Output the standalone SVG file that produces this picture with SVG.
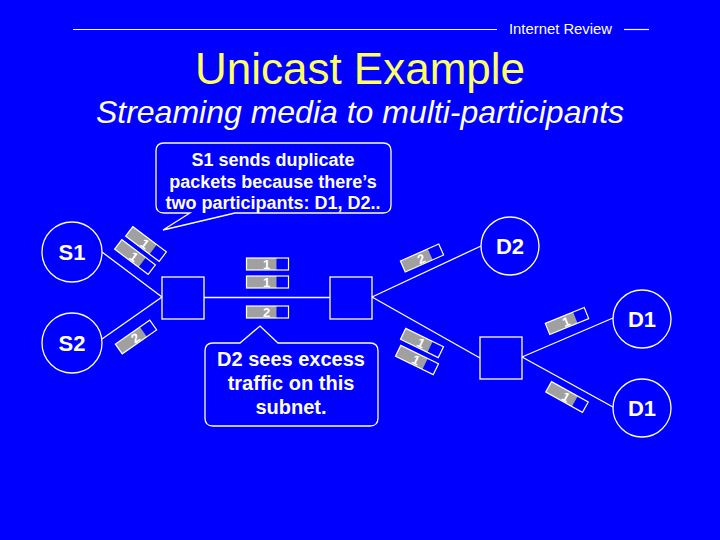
<svg xmlns="http://www.w3.org/2000/svg" width="720" height="540" viewBox="0 0 720 540">
<style>
.ln{stroke:#fff;stroke-width:1.3;fill:none}
.nd{fill:#0000ff;stroke:#fff;stroke-width:1.3}
.lbl{font-family:"Liberation Sans",Arial,sans-serif;font-weight:bold;font-size:22px;fill:#fff;text-anchor:middle}
.pt{font-family:"Liberation Sans",Arial,sans-serif;font-weight:bold;font-size:13px;fill:#fff;text-anchor:middle}
.co{font-family:"Liberation Sans",Arial,sans-serif;font-weight:bold;fill:#fff;text-anchor:middle}
</style>
<defs>
<g id="pkt">
<rect x="-21" y="-6" width="30" height="12" fill="#a0a0a0"/>
<rect x="-21" y="-6" width="42" height="12" fill="none" stroke="#fff" stroke-width="1.2"/>
</g>
</defs>
<rect width="720" height="540" fill="#0000ff"/>
<g id="header">
<line x1="73" y1="29.5" x2="497" y2="29.5" stroke="#fff" stroke-width="1.2"/>
<text x="509" y="34" font-family="'Liberation Sans',Arial,sans-serif" font-size="14" fill="#fff" textLength="103" lengthAdjust="spacingAndGlyphs">Internet Review</text>
<line x1="624" y1="29.5" x2="649" y2="29.5" stroke="#fff" stroke-width="1.2"/>
</g>
<text x="360" y="84" font-family="'Liberation Sans',Arial,sans-serif" font-size="44" fill="#ffff66" text-anchor="middle">Unicast Example</text>
<text x="360" y="123" font-family="'Liberation Sans',Arial,sans-serif" font-size="32" font-style="italic" fill="#fff" text-anchor="middle">Streaming media to multi-participants</text>
<g id="connectors">
<line class="ln" x1="102" y1="252" x2="162" y2="297"/>
<line class="ln" x1="102" y1="339" x2="162" y2="297"/>
<line class="ln" x1="204" y1="297.5" x2="330" y2="297.5"/>
<line class="ln" x1="372" y1="297" x2="481" y2="246"/>
<line class="ln" x1="372" y1="297" x2="480" y2="358"/>
<line class="ln" x1="522" y1="357" x2="613" y2="318"/>
<line class="ln" x1="522" y1="357" x2="613" y2="407"/>
</g>
<g id="S1"><circle class="nd" cx="72" cy="252" r="30"/><text class="lbl" x="72" y="260">S1</text></g>
<g id="S2"><circle class="nd" cx="72" cy="343" r="30"/><text class="lbl" x="72" y="351">S2</text></g>
<g id="D2"><circle class="nd" cx="510" cy="246" r="29"/><text class="lbl" x="510" y="254">D2</text></g>
<g id="D1a"><circle class="nd" cx="642" cy="319" r="29"/><text class="lbl" x="642" y="327">D1</text></g>
<g id="D1b"><circle class="nd" cx="642" cy="408" r="29"/><text class="lbl" x="642" y="416">D1</text></g>
<g id="R1"><rect class="nd" x="162" y="277" width="42" height="42"/></g>
<g id="R2"><rect class="nd" x="330" y="277" width="42" height="42"/></g>
<g id="R3"><rect class="nd" x="480" y="337" width="42" height="42"/></g>
<g id="packets">
<g transform="translate(146,244) rotate(37)"><use href="#pkt"/><text class="pt" x="-1" y="5">1</text></g>
<g transform="translate(135,257) rotate(37)"><use href="#pkt"/><text class="pt" x="-1" y="5">1</text></g>
<g transform="translate(136,337) rotate(-35)"><use href="#pkt"/><text class="pt" x="-1" y="5">2</text></g>
<g transform="translate(267.5,264)"><use href="#pkt"/><text class="pt" x="-1" y="5">1</text></g>
<g transform="translate(267.5,282)"><use href="#pkt"/><text class="pt" x="-1" y="5">1</text></g>
<g transform="translate(267.5,312)"><use href="#pkt"/><text class="pt" x="-1" y="5">2</text></g>
<g transform="translate(422,258) rotate(-24)"><use href="#pkt"/><text class="pt" x="-1" y="5">2</text></g>
<g transform="translate(422,343) rotate(26)"><use href="#pkt"/><text class="pt" x="-1" y="5">1</text></g>
<g transform="translate(417,360) rotate(26)"><use href="#pkt"/><text class="pt" x="-1" y="5">1</text></g>
<g transform="translate(567,321) rotate(-22)"><use href="#pkt"/><text class="pt" x="-1" y="5">1</text></g>
<g transform="translate(567,397) rotate(29)"><use href="#pkt"/><text class="pt" x="-1" y="5">1</text></g>
</g>
<g id="callout1">
<path class="nd" d="M164,143 H383 Q391,143 391,151 V205 Q391,213 383,213 H235 L163,230 L190,213 H164 Q156,213 156,205 V151 Q156,143 164,143 Z"/>
<text class="co" font-size="18" x="273" y="166">S1 sends duplicate</text>
<text class="co" font-size="18" x="273" y="187.5">packets because there’s</text>
<text class="co" font-size="18" x="273" y="208.5">two participants: D1, D2..</text>
</g>
<g id="callout2">
<path class="nd" d="M213,343 H240 L260,326 L278,343 H370 Q378,343 378,351 V418 Q378,426 370,426 H213 Q205,426 205,418 V351 Q205,343 213,343 Z"/>
<text class="co" font-size="20" x="291" y="366">D2 sees excess</text>
<text class="co" font-size="20" x="291" y="390">traffic on this</text>
<text class="co" font-size="20" x="291" y="414">subnet.</text>
</g>
</svg>
